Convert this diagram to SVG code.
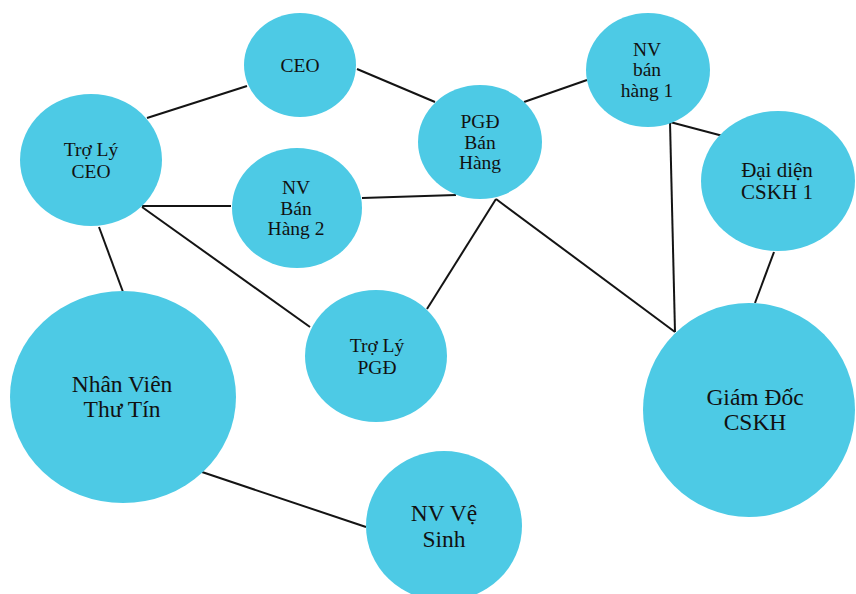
<svg xmlns="http://www.w3.org/2000/svg" width="856" height="594" viewBox="0 0 856 594">
  <style>
    .node { fill: #4dcae5; }
    .edge { stroke: #141414; stroke-width: 2; fill: none; }
    text { font-family: "Liberation Serif", "Times New Roman", serif; fill: #111; text-anchor: middle; }
    .s { font-size: 19.5px; }
    .m { font-size: 21px; }
    .l { font-size: 23.5px; }
  </style>
  <rect width="856" height="594" fill="#ffffff"/>

  <g id="connectors">
    <line class="edge" x1="147" y1="118" x2="247" y2="86"/>
    <line class="edge" x1="357" y1="69" x2="435" y2="102"/>
    <line class="edge" x1="142" y1="206" x2="231" y2="206"/>
    <line class="edge" x1="142" y1="207" x2="310" y2="327"/>
    <line class="edge" x1="99" y1="227" x2="123" y2="292"/>
    <line class="edge" x1="362" y1="198" x2="456" y2="195"/>
    <line class="edge" x1="524" y1="102" x2="587" y2="80"/>
    <line class="edge" x1="496" y1="199" x2="427" y2="309"/>
    <line class="edge" x1="496" y1="199" x2="675" y2="332"/>
    <line class="edge" x1="670" y1="122" x2="675" y2="332"/>
    <line class="edge" x1="670" y1="122" x2="723" y2="136"/>
    <line class="edge" x1="774" y1="252" x2="755" y2="303"/>
    <line class="edge" x1="202" y1="472" x2="366" y2="527"/>
  </g>

  <g id="ceo">
    <ellipse class="node" cx="300" cy="65" rx="56" ry="52"/>
    <text class="s" x="300" y="72">CEO</text>
  </g>

  <g id="tro-ly-ceo">
    <ellipse class="node" cx="91" cy="160" rx="71" ry="66"/>
    <text class="s" x="91" y="156">Trợ Lý</text>
    <text class="s" x="91" y="178">CEO</text>
  </g>

  <g id="nv-ban-hang-2">
    <ellipse class="node" cx="297" cy="208" rx="65" ry="60"/>
    <text class="s" x="296" y="194">NV</text>
    <text class="s" x="296" y="215">Bán</text>
    <text class="s" x="296" y="235">Hàng 2</text>
  </g>

  <g id="pgd-ban-hang">
    <ellipse class="node" cx="480" cy="142" rx="62" ry="57"/>
    <text class="s" x="480" y="128">PGĐ</text>
    <text class="s" x="480" y="149">Bán</text>
    <text class="s" x="480" y="169">Hàng</text>
  </g>

  <g id="nv-ban-hang-1">
    <ellipse class="node" cx="648" cy="70" rx="62" ry="57"/>
    <text class="s" x="647" y="56">NV</text>
    <text class="s" x="647" y="76">bán</text>
    <text class="s" x="647" y="97">hàng 1</text>
  </g>

  <g id="dai-dien-cskh-1">
    <ellipse class="node" cx="778" cy="181" rx="77" ry="70"/>
    <text class="m" x="777" y="177">Đại diện</text>
    <text class="m" x="777" y="199">CSKH 1</text>
  </g>

  <g id="tro-ly-pgd">
    <ellipse class="node" cx="376" cy="356" rx="71" ry="66"/>
    <text class="s" x="377" y="352">Trợ Lý</text>
    <text class="s" x="377" y="374">PGĐ</text>
  </g>

  <g id="nhan-vien-thu-tin">
    <ellipse class="node" cx="123" cy="397" rx="113" ry="106"/>
    <text class="l" x="122" y="392">Nhân Viên</text>
    <text class="l" x="122" y="417">Thư Tín</text>
  </g>

  <g id="giam-doc-cskh">
    <ellipse class="node" cx="749" cy="410" rx="106" ry="107"/>
    <text class="l" x="755" y="405">Giám Đốc</text>
    <text class="l" x="755" y="430">CSKH</text>
  </g>

  <g id="nv-ve-sinh">
    <ellipse class="node" cx="444" cy="526" rx="78" ry="75"/>
    <text class="l" x="444" y="521">NV Vệ</text>
    <text class="l" x="444" y="547">Sinh</text>
  </g>
</svg>
